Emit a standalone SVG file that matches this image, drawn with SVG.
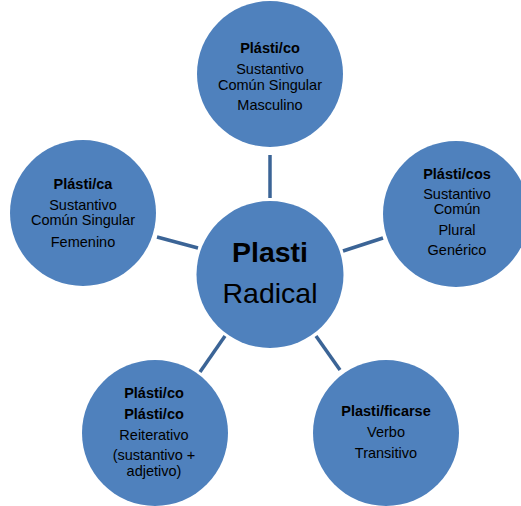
<svg xmlns="http://www.w3.org/2000/svg" width="521" height="506" viewBox="0 0 521 506">
<style>
.n{fill:#4f81bd}
.c line{stroke:#3b6496;stroke-width:3.5}
text{font-family:"Liberation Sans",Arial,sans-serif;font-size:14.5px;fill:#000;text-anchor:middle}
.b{font-weight:bold}
</style>
<rect width="521" height="506" fill="#fff"/>
<g class="c" id="connectors">
<line x1="270" y1="155" x2="270" y2="198"/>
<line x1="157" y1="237" x2="198" y2="248"/>
<line x1="343" y1="251" x2="383" y2="238"/>
<line x1="225" y1="336" x2="200" y2="372"/>
<line x1="316" y1="336" x2="340" y2="370"/>
</g>
<g id="center">
<circle class="n" cx="270" cy="274.5" r="73.5"/>
<text x="270" y="262" class="b" style="font-size:28.5px">Plasti</text>
<text x="270" y="303" style="font-size:28.5px">Radical</text>
</g>
<g id="top">
<circle class="n" cx="270" cy="74" r="73"/>
<text x="270" y="53" class="b">Plásti/co</text>
<text x="270" y="74">Sustantivo</text>
<text x="270" y="90">Común Singular</text>
<text x="270" y="110">Masculino</text>
</g>
<g id="right">
<circle class="n" cx="456" cy="214" r="73"/>
<text x="457" y="179" class="b">Plásti/cos</text>
<text x="457" y="199">Sustantivo</text>
<text x="457" y="214">Común</text>
<text x="457" y="235">Plural</text>
<text x="457" y="255">Genérico</text>
</g>
<g id="left">
<circle class="n" cx="83" cy="213" r="73"/>
<text x="83" y="189" class="b">Plásti/ca</text>
<text x="83" y="210">Sustantivo</text>
<text x="83" y="225">Común Singular</text>
<text x="83" y="247">Femenino</text>
</g>
<g id="bottom-left">
<circle class="n" cx="155" cy="433" r="73"/>
<text x="154" y="398" class="b">Plásti/co</text>
<text x="154" y="419" class="b">Plásti/co</text>
<text x="154" y="440">Reiterativo</text>
<text x="154" y="460">(sustantivo +</text>
<text x="154" y="476">adjetivo)</text>
</g>
<g id="bottom-right">
<circle class="n" cx="386" cy="433" r="73"/>
<text x="386" y="416" class="b">Plasti/ficarse</text>
<text x="386" y="437">Verbo</text>
<text x="386" y="458">Transitivo</text>
</g>
</svg>
